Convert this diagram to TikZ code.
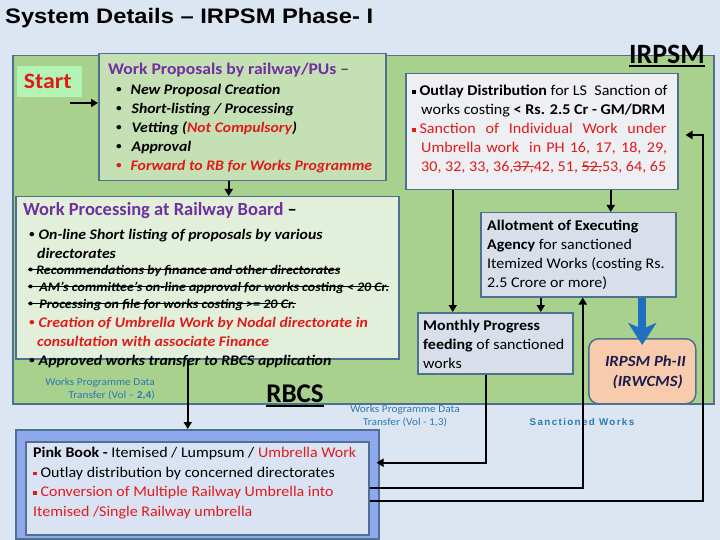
\documentclass[tikz,border=0pt]{standalone}
\usepackage{fontspec}
\setmainfont{Carlito}[FakeStretch=1.08]
\newfontfamily\plainfont{Carlito}
\newfontfamily\titlefont{Liberation Sans}
\newfontfamily\spacedfont[LetterSpace=14]{Liberation Sans}
\usetikzlibrary{positioning,arrows.meta}

\definecolor{bgblue}{HTML}{DCE6F2}
\definecolor{edgeblue}{HTML}{50708F}
\definecolor{panelgreen}{HTML}{A9D18E}
\definecolor{startgreen}{HTML}{B3F3B3}
\definecolor{propgreen}{HTML}{C5E0B4}
\definecolor{procgreen}{HTML}{E2EFDA}
\definecolor{outlaygray}{HTML}{EDEFF3}
\definecolor{allotblue}{HTML}{D8DFEA}
\definecolor{peach}{HTML}{F8CBAD}
\definecolor{rbcsblue}{HTML}{8EA9F0}
\definecolor{rbcsinner}{HTML}{DAE3F3}
\definecolor{titlepurple}{HTML}{7030A0}
\definecolor{hotred}{HTML}{E01B1B}
\definecolor{labelblue}{HTML}{2A78B4}
\definecolor{arrowblue}{HTML}{1F70C1}
\definecolor{navy}{HTML}{1C1C50}

% bullets, struck and underlined text
\newcommand{\sqb}[1][black]{\textcolor{#1}{\rule[1.8pt]{3.8pt}{3.8pt}}}
\newcommand{\dotb}{\raisebox{0.12em}{\scalebox{0.7}{\textbullet}}}
\newsavebox{\markbox}
\newcommand{\strike}[1]{\sbox{\markbox}{#1}\rlap{\usebox{\markbox}}\rule[0.3em]{\wd\markbox}{1.1pt}}
\newcommand{\undl}[1]{\sbox{\markbox}{#1}\rlap{\usebox{\markbox}}\rule[-0.14em]{\wd\markbox}{1.8pt}}

\tikzset{
  panel/.style={draw=edgeblue, line width=1.5pt, inner sep=0pt, anchor=north west},
  txt/.style={anchor=north west, inner sep=0pt, align=left},
  body/.style={font=\fontsize{14.8}{19}\selectfont},
  bodyit/.style={font=\fontsize{14.6}{19}\selectfont\bfseries\itshape},
  arr/.style={-{Triangle[length=7pt,width=8pt]}, line width=2.4pt},
  bigarr/.style={-{Stealth[length=22pt,width=28pt,inset=6pt]}, line width=8pt, draw=arrowblue},
  wpdata/.style={inner sep=0pt, text=labelblue, font=\fontsize{10.5}{13}\selectfont},
}

\begin{document}
\begin{tikzpicture}[x=1pt,y=-1pt]
\useasboundingbox (0,0) rectangle (720,540);
\fill[bgblue] (0,0) rectangle (720,540);

% heading
\node[anchor=west, inner sep=0pt, font=\titlefont\fontsize{21}{21}\selectfont\bfseries] (title) at (5,18)
  {\scalebox{1.13}[1]{System Details \textendash\ IRPSM Phase- I}};

% IRPSM area
\node[panel, fill=panelgreen, minimum width=701pt, minimum height=348pt] (irpsm) at (12,55) {};
\node[inner sep=0pt, font=\plainfont\fontsize{28}{28}\selectfont\bfseries] (irpsmlabel) at (667,56) {\undl{IRPSM}};

\node[anchor=north west, fill=startgreen, minimum width=65pt, minimum height=31pt, inner sep=0pt,
  text=hotred, font=\fontsize{22}{22}\selectfont\bfseries] (start) at (17,66) {Start\hspace*{4pt}};

% proposals by railways
\node[panel, fill=propgreen, minimum width=287pt, minimum height=127pt] (proposals) at (98,53) {};
\node[txt, text=titlepurple, font=\fontsize{16.3}{16.3}\selectfont\bfseries] (proptitle) at (108,63)
  {Work Proposals by railway/PUs \textcolor{black!70}{\textendash}};
\node[txt, bodyit] (propitems) at (116,84)
  {\dotb\hspace{9pt}New Proposal Creation\\
   \dotb\hspace{10pt}Short-listing / Processing\\
   \dotb\hspace{10pt}Vetting (\textcolor{hotred}{Not Compulsory})\\
   \dotb\hspace{10pt}Approval\\
   \textcolor{hotred}{\dotb\hspace{9pt}Forward to RB for Works Programme}};

% processing at board
\node[panel, fill=procgreen, minimum width=383pt, minimum height=162pt] (processing) at (15,196) {};
\node[txt, text=titlepurple, font=\plainfont\fontsize{18.5}{18.5}\selectfont\bfseries] (proctitle) at (23,202)
  {Work Processing at Railway Board \textcolor{black}{\textendash}};
\node[txt, bodyit] (procitems) at (29,229)
  {\dotb\hspace{4pt}On-line Short listing of proposals by various\\
   \hspace*{8pt}directorates};
\node[txt, font=\fontsize{13}{17}\selectfont\bfseries\itshape] (procold) at (28,265)
  {\strike{\dotb\ Recommendations by finance and other directorates}\\
   \strike{\dotb\ \ AM's committee's on-line approval for works costing < 20 Cr.}\\
   \strike{\dotb\ \ Processing on file for works costing >= 20 Cr.}};
\node[txt, bodyit] (procnew) at (29,317)
  {\textcolor{hotred}{\dotb\hspace{4pt}Creation of Umbrella Work by Nodal directorate in}\\
   \hspace*{8pt}\textcolor{hotred}{consultation with associate Finance}\\
   \dotb\hspace{4pt}Approved works transfer to RBCS application};

% outlay distribution
\node[panel, fill=outlaygray, minimum width=272pt, minimum height=116pt] (outlay) at (405,73) {};
\node[txt, font=\fontsize{14.9}{19}\selectfont] (outlaytext) at (412,85)
  {\sqb\hspace{3.5pt}\textbf{Outlay Distribution} for LS\ \ Sanction of\\
   \hspace*{9pt}works costing \textbf{< Rs. 2.5 Cr - GM/DRM}\\
   \textcolor{hotred}{\sqb[hotred]\hspace{3.5pt}\makebox[247pt][s]{Sanction of Individual Work under}}\\
   \hspace*{9pt}\textcolor{hotred}{\makebox[246pt][s]{Umbrella work \ in PH 16, 17, 18, 29,}}\\
   \hspace*{9pt}\textcolor{hotred}{30, 32, 33, 36,\strike{37,}42, 51, \strike{52,}53, 64, 65}};

% allotment and progress
\node[panel, fill=allotblue, minimum width=195pt, minimum height=84pt] (allot) at (480,212) {};
\node[txt, body] (allottext) at (487,220)
  {\textbf{Allotment of Executing}\\
   \textbf{Agency} for sanctioned\\
   Itemized Works (costing Rs.\\
   2.5 Crore or more)};
\node[panel, fill=allotblue, minimum width=155pt, minimum height=61pt] (monthly) at (417,312) {};
\node[txt, body] (monthlytext) at (423,320)
  {\textbf{Monthly Progress}\\
   \textbf{feeding} of sanctioned\\
   works};

% phase II
\node[panel, fill=peach, rounded corners=10pt, minimum width=107pt, minimum height=65pt] (ph2) at (588,338) {};
\node[anchor=north east, inner sep=0pt, align=right, text=navy,
  font=\fontsize{15.5}{20}\selectfont\bfseries\itshape] (ph2text) at (686,355)
  {IRPSM Ph-II\\(IRWCMS)\hspace*{3pt}};

% RBCS
\node[panel, fill=rbcsblue, minimum width=363pt, minimum height=109pt] (rbcs) at (15,429) {};
\node[panel, fill=rbcsinner, minimum width=343pt, minimum height=93pt] (rbcsin) at (25,441) {};
\node[inner sep=0pt, font=\plainfont\fontsize{27}{27}\selectfont\bfseries] (rbcslabel) at (295,396) {\undl{RBCS}};
\node[txt, font=\fontsize{14.8}{19.7}\selectfont] (rbcstext) at (33,447)
  {\textbf{Pink Book -} Itemised / Lumpsum / \textcolor{hotred}{Umbrella Work}\\
   \sqb[hotred] Outlay distribution by concerned directorates\\
   \textcolor{hotred}{\sqb[hotred] Conversion of Multiple Railway Umbrella into}\\
   \textcolor{hotred}{Itemised /Single Railway umbrella}};

% data transfer labels
\node[wpdata, anchor=east, align=right] (wp24) at (155,389)
  {Works Programme Data\\Transfer (Vol \textendash\ \textbf{2,4})};
\node[wpdata, align=center] (wp13) at (405,416)
  {Works Programme Data\\Transfer (Vol - 1,3)};
\node[inner sep=0pt, text=labelblue, font=\spacedfont\fontsize{9.8}{9.8}\selectfont\bfseries] (sanct) at (582,422)
  {Sanctioned Works};

% connectors
\coordinate (startarr) at (70,103);
\draw[arr] (startarr) -- (startarr -| proposals.west);
\coordinate (p0) at ([xshift=-13.5pt]proposals.south);
\draw[arr] (p0) -- (p0 |- processing.north);
\coordinate (o1) at ([xshift=-89pt]outlay.south);
\draw[arr] (o1) -- (o1 |- monthly.north);
\coordinate (o2) at ([xshift=69pt]outlay.south);
\draw[arr] (o2) -- (o2 |- allot.north);
\coordinate (a1) at ([xshift=-37.5pt]allot.south);
\draw[arr] (a1) -- (a1 |- monthly.north);
\coordinate (a2) at (allot.south -| ph2.north);
\draw[bigarr, shorten >=-7pt] (a2) -- (ph2.north);
\coordinate (p1) at ([xshift=-19.5pt]processing.south);
\draw[arr, line width=1.6pt] (p1) -- (p1 |- rbcs.north);
\coordinate (m1) at ([xshift=-9.5pt]monthly.south);
\coordinate (r1) at ([yshift=21.5pt]rbcs.east);
\draw[arr] (m1) |- ([xshift=-3pt]r1);
\draw[arr] (rbcsin.east) -| ([xshift=4.5pt]allot.south);
\coordinate (r3) at ([yshift=-12.5pt]rbcsin.east);
\coordinate (rt) at (703,135);
\draw[arr, shorten >=7pt] (r3) -| (rt) -- (rt -| outlay.east);
\end{tikzpicture}
\end{document}
